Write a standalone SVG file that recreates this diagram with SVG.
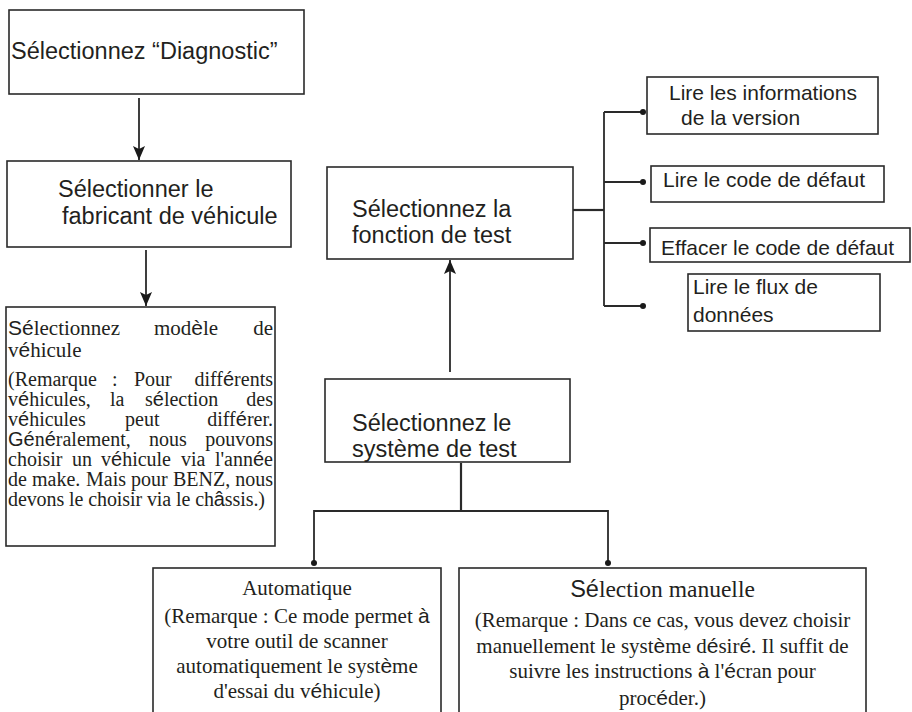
<svg xmlns="http://www.w3.org/2000/svg" width="912" height="712" viewBox="0 0 912 712">
<defs>
<style>
.box{fill:#fff;stroke:#2a2a2a;stroke-width:1.6}
.ln{fill:none;stroke:#2a2a2a;stroke-width:1.8}
.dot{fill:#1a1a1a}
.sans{font-family:"Liberation Sans",Arial,sans-serif;fill:#231f20;font-size:23.5px}
.sm{font-size:21px}
.serif{font-family:"Liberation Serif","Times New Roman",serif;fill:#231f20;font-size:20px}
.s21{font-size:21px}
.big{font-size:23.5px}
.a{font-family:"Liberation Sans",Arial,sans-serif}
.mid{text-anchor:middle}
.end{text-anchor:end}
</style>
<marker id="arr" viewBox="0 0 14 12" refX="14" refY="6" markerWidth="14" markerHeight="12" markerUnits="userSpaceOnUse" orient="auto">
<path d="M0,0 L14,6 L0,12 L3,6 Z" fill="#1a1a1a"/>
</marker>
</defs>
<rect width="912" height="712" fill="#fff"/>

<g id="connectors">
<line class="ln" x1="139" y1="98" x2="139" y2="160" marker-end="url(#arr)"/>
<line class="ln" x1="146" y1="250" x2="146" y2="306" marker-end="url(#arr)"/>
<line class="ln" x1="450" y1="372" x2="450" y2="260" marker-end="url(#arr)"/>
<line class="ln" x1="573" y1="210" x2="604" y2="210" style="stroke-width:2.2"/>
<line class="ln" x1="604" y1="112" x2="604" y2="306"/>
<line class="ln" x1="604" y1="112" x2="643" y2="112"/>
<line class="ln" x1="604" y1="182" x2="643" y2="182"/>
<line class="ln" x1="604" y1="243" x2="643" y2="243"/>
<line class="ln" x1="604" y1="306" x2="643" y2="306"/>
<circle class="dot" cx="643" cy="112" r="3"/>
<circle class="dot" cx="643" cy="182" r="3"/>
<circle class="dot" cx="643" cy="243" r="3"/>
<circle class="dot" cx="643" cy="306" r="3"/>
<line class="ln" x1="461" y1="463" x2="461" y2="511" style="stroke-width:2.2"/>
<polyline class="ln" points="314,563 314,511 608,511 608,563"/>
<circle class="dot" cx="314" cy="563" r="3"/>
<circle class="dot" cx="608" cy="563" r="3"/>
</g>

<g id="n-diagnostic">
<rect class="box" x="9" y="10" width="295" height="84"/>
<text class="sans" x="11" y="59">Sélectionnez “Diagnostic”</text>
</g>

<g id="n-fabricant">
<rect class="box" x="7" y="161" width="284" height="86"/>
<text class="sans" x="58" y="197">Sélectionner le</text>
<text class="sans" x="62" y="224">fabricant de véhicule</text>
</g>

<g id="n-modele">
<rect class="box" x="6" y="307" width="269" height="239"/>
<text class="serif s21" y="335"><tspan x="8" class="a">Sé</tspan><tspan>lectionnez</tspan><tspan x="154">mod</tspan><tspan class="a">è</tspan><tspan>le</tspan></text>
<text class="serif s21 end" x="273" y="335">de</text>
<text class="serif s21" x="8" y="357">v<tspan class="a">é</tspan>hicule</text>
<text class="serif" y="386"><tspan x="8">(Remarque</tspan><tspan x="112">:</tspan><tspan x="134">Pour</tspan></text>
<text class="serif end" x="273" y="386">diff<tspan class="a">é</tspan>rents</text>
<text class="serif" y="406"><tspan x="8">v</tspan><tspan class="a">é</tspan><tspan>hicules,</tspan><tspan x="110">la</tspan><tspan x="145">s</tspan><tspan class="a">é</tspan><tspan>lection</tspan></text>
<text class="serif end" x="273" y="406">des</text>
<text class="serif" y="426"><tspan x="8">v</tspan><tspan class="a">é</tspan><tspan>hicules</tspan><tspan x="125">peut</tspan></text>
<text class="serif end" x="273" y="426">diff<tspan class="a">é</tspan>rer.</text>
<text class="serif" y="446"><tspan x="8" class="a">Gé</tspan><tspan>n</tspan><tspan class="a">é</tspan><tspan>ralement,</tspan><tspan x="149">nous</tspan></text>
<text class="serif end" x="273" y="446">pouvons</text>
<text class="serif" y="466"><tspan x="8">choisir</tspan><tspan x="72">un</tspan><tspan x="101">v</tspan><tspan class="a">é</tspan><tspan>hicule</tspan><tspan x="181">via</tspan></text>
<text class="serif end" x="273" y="466">l'ann<tspan class="a">é</tspan>e</text>
<text class="serif" y="486"><tspan x="8">de</tspan><tspan x="32">make.</tspan><tspan x="86">Mais</tspan><tspan x="131">pour</tspan><tspan x="173">BENZ,</tspan></text>
<text class="serif end" x="273" y="486">nous</text>
<text class="serif" x="8" y="506" textLength="257" lengthAdjust="spacing">devons le choisir via le ch<tspan class="a">â</tspan>ssis.)</text>
</g>

<g id="n-fonction">
<rect class="box" x="327" y="167" width="246" height="92"/>
<text class="sans" x="352" y="217">Sélectionnez la</text>
<text class="sans" x="352" y="243">fonction de test</text>
</g>

<g id="n-version">
<rect class="box" x="647" y="77" width="231" height="57"/>
<text class="sans sm" x="669" y="100">Lire les informations</text>
<text class="sans sm" x="681" y="125">de la version</text>
</g>

<g id="n-code">
<rect class="box" x="651" y="166" width="233" height="36"/>
<text class="sans sm" x="663" y="187">Lire le code de défaut</text>
</g>

<g id="n-effacer">
<rect class="box" x="650" y="228" width="260" height="34"/>
<text class="sans sm" x="661" y="255">Effacer le code de défaut</text>
</g>

<g id="n-flux">
<rect class="box" x="688" y="274" width="192" height="57"/>
<text class="sans sm" x="693" y="294">Lire le flux de</text>
<text class="sans sm" x="693" y="322">données</text>
</g>

<g id="n-systeme">
<rect class="box" x="325" y="379" width="245" height="83"/>
<text class="sans" x="352" y="431">Sélectionnez le</text>
<text class="sans" x="352" y="457">système de test</text>
</g>

<g id="n-auto">
<rect class="box" x="153" y="568" width="288" height="160"/>
<text class="serif s21 mid" x="297" y="595">Automatique</text>
<text class="serif s21 mid" x="297" y="623">(Remarque : Ce mode permet <tspan class="a">à</tspan></text>
<text class="serif s21 mid" x="297" y="648">votre outil de scanner</text>
<text class="serif s21 mid" x="297" y="673">automatiquement le syst<tspan class="a">è</tspan>me</text>
<text class="serif s21 mid" x="297" y="698">d'essai du v<tspan class="a">é</tspan>hicule)</text>
</g>

<g id="n-manuel">
<rect class="box" x="459" y="568" width="407" height="160"/>
<text class="serif big mid" x="662.5" y="597"><tspan class="a">Sé</tspan>lection manuelle</text>
<text class="serif s21 mid" x="662.5" y="627">(Remarque : Dans ce cas, vous devez choisir</text>
<text class="serif s21 mid" x="662.5" y="653">manuellement le syst<tspan class="a">è</tspan>me d<tspan class="a">é</tspan>sir<tspan class="a">é</tspan>. Il suffit de</text>
<text class="serif s21 mid" x="662.5" y="678">suivre les instructions <tspan class="a">à</tspan> l'<tspan class="a">é</tspan>cran pour</text>
<text class="serif s21 mid" x="662.5" y="705">proc<tspan class="a">é</tspan>der.)</text>
</g>
</svg>
